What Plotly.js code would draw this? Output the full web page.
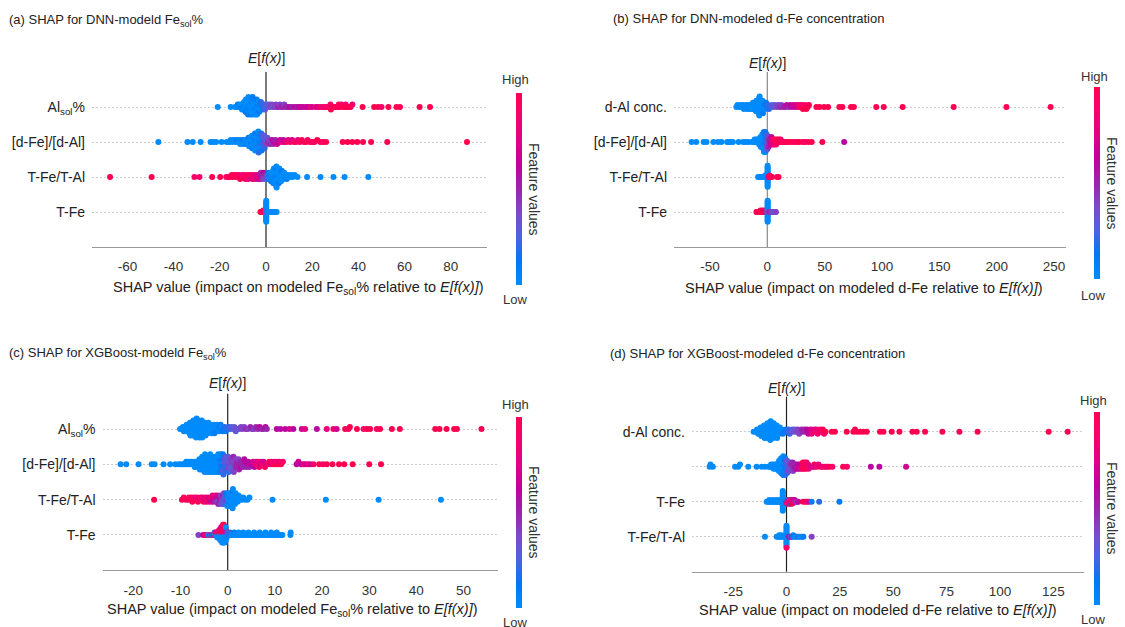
<!DOCTYPE html>
<html><head><meta charset="utf-8">
<script src="https://cdn.plot.ly/plotly-3.0.1.min.js"></script>
<style>html,body{margin:0;padding:0;background:#fff}</style>
</head><body><div id="chart" style="width:1125px;height:627px"></div>
<script>
// ---------------- DATA: [SHAP value, feature value level 0..10] ----------------
// Panel (a) DNN Fe_sol%
const A_al = [[-20.9,0],[-15.3,0],
[-13.4,0],[-12.6,0],[-12.2,1],[-11.6,0],[-11.3,0],[-11.0,1],
[-10.6,0],[-10.4,0],[-10.2,1],[-10.0,0],[-9.8,0],
[-9.5,0],[-9.4,1],[-9.2,0],[-9.1,0],[-9.0,0],[-8.8,1],[-8.7,0],
[-8.4,0],[-8.3,0],[-8.2,1],[-8.1,0],[-8.0,0],[-7.9,0],[-7.8,1],[-7.6,0],
[-7.4,0],[-7.3,0],[-7.2,1],[-7.0,0],[-6.9,0],[-6.8,0],[-6.7,1],[-6.6,0],[-6.5,0],
[-6.3,0],[-6.2,1],[-6.1,0],[-6.0,0],[-5.9,0],[-5.8,1],[-5.7,0],[-5.6,0],[-5.5,0],
[-5.3,0],[-5.2,0],[-5.0,1],[-4.9,0],[-4.8,0],[-4.7,0],[-4.5,1],[-4.4,0],
[-4.2,0],[-4.0,1],[-3.9,0],[-3.7,0],[-3.6,1],[-3.4,0],[-3.3,0],
[-3.0,1],[-2.8,0],[-2.6,1],[-2.4,0],[-2.2,2],
[-1.9,1],[-1.6,2],[-1.4,1],[-1.1,2],
[-0.8,2],[-0.4,3],[-0.1,2],
[0.3,3],[0.8,3],[1.4,3],[1.9,4],[2.5,4],[3.0,3],[3.6,4],[4.2,4],
[4.8,4],[5.3,5],[6.0,4],[6.6,5],[7.3,5],[7.9,4],[8.6,5],[9.4,5],[10.3,6],[11.2,5],
[12.5,6],[13.5,5],[14.3,6],[15.1,7],[16.0,6],[17.2,7],[18.0,6],[19.1,8],[20.0,7],[21.5,8],[22.4,7],[23.4,9],[24.5,8],
[25.3,9],[26.2,10],[26.8,8],[27.5,10],[27.9,9],[28.1,10],[28.8,9],[29.5,10],[30.3,10],[31.2,9],[31.5,10],[32.0,10],[32.6,9],[33.4,10],[34.1,10],[34.5,9],[35.0,10],[35.8,10],[36.6,10],[37.4,9],
[41.8,10],[46.8,10],[48.5,10],[50.0,9],[53.0,10],[56.5,10],[58.0,10],[66.5,10],[71.0,10]];

const A_dfe = [[-46.6,0],[-34.0,0],[-31.7,0],[-28.3,0],[-24.0,0],[-22.8,0],[-21.6,0],[-19.2,0],[-17.0,0],
[-15.9,0],[-15.3,0],[-14.6,0],[-14.0,0],[-13.2,0],[-12.6,1],[-11.9,0],[-11.6,0],[-11.2,0],[-10.5,0],[-10.2,1],[-9.9,0],
[-9.3,0],[-9.0,0],[-8.7,1],[-8.4,0],[-8.0,0],[-7.8,0],[-7.6,1],[-7.3,0],[-7.1,0],
[-6.8,0],[-6.6,1],[-6.5,0],[-6.3,0],[-6.1,0],[-6.0,1],[-5.8,0],[-5.6,0],
[-5.5,0],[-5.4,1],[-5.2,0],[-5.1,0],[-5.0,0],[-4.8,1],[-4.7,0],[-4.5,0],[-4.4,1],[-4.3,0],
[-4.1,0],[-4.0,1],[-3.8,0],[-3.7,0],[-3.6,1],[-3.4,0],[-3.3,0],[-3.2,2],[-3.0,0],[-2.9,1],
[-2.8,1],[-2.6,0],[-2.5,2],[-2.3,1],[-2.2,0],[-2.0,2],[-1.9,1],[-1.7,3],[-1.6,1],
[-1.4,2],[-1.2,3],[-1.0,2],[-0.8,3],[-0.6,2],[-0.3,4],
[0.0,3],[0.3,4],[0.6,3],[0.9,5],[1.3,4],[1.8,5],[2.3,4],[2.7,6],[3.2,5],[3.6,6],[4.1,5],[4.8,7],[5.4,6],[6.1,7],[6.8,8],[7.5,6],[8.1,7],[8.9,9],
[9.6,8],[10.5,9],[11.3,7],[12.2,9],[13.0,10],[13.8,8],[14.6,9],[15.5,10],[16.4,9],[17.3,10],[18.0,9],[19.0,10],[20.1,10],[21.0,9],[22.2,10],[23.5,10],[24.8,9],[26.0,10],
[33.2,10],[35.3,10],[37.4,10],[39.5,10],[42.0,10],[45.5,10],[52.5,10],[87.0,10]];

const A_tfetal = [[-67.5,10],[-49.5,10],[-31.0,9],[-28.8,9],[-23.3,10],[-19.8,10],[-17.2,9],[-16.3,10],
[-15.5,10],[-14.8,9],[-14.2,10],[-13.6,10],[-13.0,9],[-12.5,10],[-12.0,10],
[-11.5,9],[-11.2,10],[-10.6,10],[-10.2,9],[-9.6,10],[-9.2,8],[-8.9,10],[-8.4,9],[-8.0,10],[-7.7,8],[-7.3,9],[-6.9,10],[-6.5,8],[-6.2,9],[-5.8,7],[-5.4,10],[-5.0,8],[-4.7,9],[-4.3,7],[-3.9,8],[-3.5,6],[-3.2,9],
[-2.8,6],[-2.5,7],[-2.2,5],[-1.9,6],[-1.6,5],[-1.3,4],[-1.0,6],[-0.7,4],[-0.4,5],[-0.1,3],[0.2,4],[0.5,3],[0.8,2],
[1.1,1],[1.3,0],[1.5,2],[1.7,0],
[2.0,0],[2.2,1],[2.4,0],[2.5,0],[2.7,1],[2.8,0],
[3.0,0],[3.1,0],[3.2,1],[3.4,0],[3.5,0],[3.6,0],[3.7,1],[3.8,0],[3.9,0],
[4.1,0],[4.2,0],[4.3,1],[4.4,0],[4.5,0],[4.6,0],[4.7,0],[4.8,1],[4.9,0],[5.0,0],
[5.2,0],[5.4,0],[5.5,1],[5.7,0],[5.8,0],[6.0,0],[6.1,0],
[6.3,0],[6.5,0],[6.8,1],[7.0,0],[7.2,0],
[7.5,0],[7.9,0],[8.2,0],[8.6,0],[9.0,1],[9.4,0],[9.8,0],[10.4,0],[10.9,0],[11.5,0],[12.4,0],[13.6,0],
[17.8,0],[23.6,0],[29.2,0],[34.0,0],[44.3,0]];

const A_tfe = [[-2.4,10],[-2.0,10],[-1.7,9],[-1.5,10],[-1.3,10],[-1.2,10],[-1.2,9],[-1.0,10],[-0.9,10],[-0.8,10],[-0.7,9],[-0.7,10],[-0.6,10],[-0.5,10],[-0.4,10],[-0.4,9],[-0.3,10],[-0.2,8],[-0.1,6],
[0.1,0],[0.1,0],[0.1,0],[0.1,0],[0.1,0],[0.1,0],[0.1,0],[0.1,0],[0.1,0],[0.1,0],[0.1,0],[0.1,0],[0.1,0],[0.1,0],[0.1,0],[0.1,0],
[0.3,3],[0.5,2],[0.8,0],[1.2,0],[1.6,0],[2.0,0],[2.5,0],[3.0,0],[3.5,0],[4.0,0],[4.6,0]];

// Panel (b) DNN d-Fe
const B_dal = [[-27.0,0],[-26.0,0],[-24.5,0],[-23.2,0],[-22.0,0],[-21.2,0],[-20.4,0],[-19.3,0],[-18.4,0],[-17.5,0],
[-16.6,0],[-15.9,0],[-15.2,0],[-14.5,0],[-13.8,0],[-13.1,0],[-12.5,0],[-11.8,0],
[-11.2,0],[-10.7,0],[-10.3,0],[-9.9,0],[-9.5,0],[-9.1,0],
[-8.6,0],[-8.3,0],[-8.0,0],[-7.8,0],[-7.6,0],[-7.4,0],[-7.2,0],[-7.0,0],[-6.7,0],[-6.4,0],
[-5.9,0],[-5.5,0],[-5.0,0],[-4.6,0],[-4.2,0],[-3.8,1],
[-3.2,0],[-2.5,1],[-1.8,0],[-1.1,1],[-0.4,1],[0.6,2],[1.5,2],[2.5,2],[4.0,3],[5.3,3],[6.9,3],
[8.3,4],[9.8,4],[11.2,5],[12.5,4],[14.0,5],[15.5,5],[17.0,6],[18.6,5],[20.1,6],[21.5,6],[23.0,7],[24.4,6],[25.6,7],
[27.0,8],[28.0,9],[29.2,10],[30.1,9],[31.0,10],[32.0,10],[33.1,9],[34.0,10],[35.2,10],[36.3,10],
[42.8,10],[45.5,10],[49.5,10],[53.0,10],[62.8,10],[65.5,10],[73.0,10],[75.5,10],[95.0,10],[101.5,10],[118.0,10],[162.5,10],[208.5,10],[247.0,10]];

const B_dfe = [[-66.0,0],[-62.0,0],[-55.5,0],[-53.0,0],[-47.0,0],[-43.0,0],[-40.0,0],[-35.0,0],[-33.5,0],[-32.0,0],[-30.0,0],[-25.0,0],[-21.0,0],[-19.0,0],[-16.5,0],[-13.5,0],[-12.0,0],
[-11.0,0],[-10.4,0],[-9.7,0],[-9.1,0],[-8.4,0],[-8.0,0],[-7.6,0],
[-7.1,0],[-6.8,0],[-6.5,0],[-6.2,0],[-5.9,0],[-5.6,0],[-5.4,0],[-5.1,0],[-4.8,0],
[-4.6,0],[-4.4,0],[-4.3,0],[-4.1,0],[-3.9,0],[-3.8,0],[-3.6,0],[-3.4,0],
[-3.3,0],[-3.2,0],[-3.0,1],[-2.9,0],[-2.8,0],[-2.6,0],[-2.5,1],[-2.4,0],[-2.2,0],[-2.1,1],
[-1.9,0],[-1.8,1],[-1.6,0],[-1.4,2],[-1.2,1],[-1.0,2],[-0.9,1],[-0.7,3],
[-0.5,2],[-0.2,3],[0.0,3],[0.3,4],[0.5,3],
[0.8,4],[1.1,5],[1.5,4],[1.8,5],
[2.1,5],[2.5,6],[2.9,5],[3.2,7],
[3.6,6],[4.0,7],[4.5,8],[4.9,7],[5.4,8],[5.9,9],[6.3,8],[6.8,9],[7.2,10],
[7.7,9],[8.4,10],[9.0,10],[9.8,9],[10.3,10],[11.1,10],[11.7,9],[12.5,10],[13.3,10],[14.6,10],[16.0,9],[17.4,10],[19.0,10],
[21.5,10],[24.0,9],[25.8,10],[28.0,10],[31.0,10],[33.0,9],[35.8,10],[38.7,10],[48.0,10],[67.0,6]];

const B_tfetal = [[-8.0,0],[-7.2,0],[-6.5,0],[-5.8,0],[-5.0,0],[-4.4,0],[-3.8,0],[-3.2,0],[-2.6,0],[-2.0,0],[-2.0,0],[-1.5,0],[-1.0,0],[-1.0,0],[-0.6,0],[-0.3,0],
[0.28,0],[0.28,0],[0.28,0],[0.28,0],[0.28,0],[0.28,0],[0.28,0],[0.28,0],[0.28,0],[0.28,0],[0.28,0],[0.28,0],[0.28,0],[0.28,0],[0.28,0],[0.28,0],
[0.6,3],[1.2,8],[1.6,6],[2.0,9],[2.0,10],[2.6,10],[3.3,10],[4.1,10],[8.5,10],[9.8,10]];

const B_tfe = [[-9.5,10],[-9.0,10],[-8.4,10],[-7.8,10],[-7.2,10],[-6.6,10],[-6.0,10],[-6.0,9],[-5.4,10],[-4.8,10],[-4.2,10],[-4.2,10],[-3.6,10],[-3.0,9],[-2.4,10],[-2.4,10],[-1.8,10],[-1.2,9],[-0.6,10],
[0.3,0],[0.3,0],[0.3,0],[0.3,0],[0.3,0],[0.3,0],[0.3,0],[0.3,0],[0.3,0],[0.3,0],[0.3,0],[0.3,0],[0.3,0],[0.3,0],[0.3,0],[0.3,0],
[1.0,5],[1.6,4],[2.2,5],[2.8,4],[3.4,5],[4.0,4],[4.6,3],[5.2,4],[5.8,3],[6.4,4],[7.0,3],[7.5,4]];

// Panel (c) XGBoost Fe_sol%
const C_al = [[-10.1,0],[-9.7,0],[-9.5,0],[-9.3,0],[-9.1,0],[-9.0,0],[-8.8,0],[-8.7,0],[-8.5,0],
[-8.4,0],[-8.3,0],[-8.2,0],[-8.1,0],[-8.0,0],[-7.9,0],
[-7.8,0],[-7.8,0],[-7.7,0],[-7.6,0],[-7.6,0],[-7.5,0],[-7.4,0],[-7.3,0],[-7.2,0],
[-7.1,0],[-7.1,0],[-7.0,0],[-6.9,0],[-6.9,0],[-6.8,0],[-6.7,0],[-6.7,0],[-6.6,0],[-6.5,0],
[-6.5,0],[-6.4,0],[-6.4,0],[-6.3,0],[-6.2,0],[-6.2,0],[-6.1,0],[-6.0,0],[-5.9,0],
[-5.9,0],[-5.8,0],[-5.8,0],[-5.7,0],[-5.6,0],[-5.5,0],[-5.5,0],[-5.4,0],
[-5.3,0],[-5.2,0],[-5.1,0],[-5.0,0],[-4.9,0],[-4.8,0],[-4.7,0],
[-4.6,0],[-4.5,0],[-4.4,0],[-4.3,0],[-4.2,0],[-4.1,0],
[-4.0,0],[-3.9,0],[-3.7,0],[-3.6,0],[-3.4,0],
[-3.3,0],[-3.2,0],[-3.0,0],[-2.9,0],[-2.8,1],
[-2.7,0],[-2.5,0],[-2.3,1],[-2.2,0],
[-2.0,0],[-1.9,1],[-1.7,0],[-1.5,1],
[-1.4,1],[-1.2,0],[-1.0,1],
[-0.8,1],[-0.6,2],[-0.4,1],
[-0.1,2],[0.2,2],[0.5,2],[0.8,3],[1.1,3],[1.4,3],[1.7,3],[2.1,4],[2.4,3],[2.8,4],
[3.1,4],[3.5,4],[3.9,5],[4.3,4],[4.8,5],[5.2,5],[5.6,4],[6.0,5],[6.4,5],[6.8,6],[7.2,5],[7.6,5],[8.0,6],[8.3,5],
[10.4,6],[11.2,6],[12.2,6],[13.1,7],[13.9,6],[15.7,7],[16.4,8],[18.9,6],[21.0,8],[22.4,9],[23.1,7],[24.9,10],[25.6,9],[25.9,10],[27.4,10],[28.8,9],[29.5,10],[30.2,10],[31.6,9],[32.3,10],[34.8,10],[36.5,10],[44.0,10],[44.9,10],[46.4,10],[48.0,10],[48.6,10],[53.8,10]];

const C_dfe = [[-22.7,0],[-21.5,0],[-18.9,0],[-16.1,0],[-15.5,0],[-13.6,0],[-12.2,0],[-11.1,0],[-10.4,0],[-9.9,0],[-9.4,0],[-9.0,0],
[-8.8,0],[-8.6,0],[-8.2,0],[-8.0,0],[-7.7,0],[-7.5,0],[-7.2,0],[-7.0,0],[-6.8,0],
[-6.7,0],[-6.6,0],[-6.4,0],[-6.3,0],[-6.1,0],[-6.0,0],[-5.9,0],[-5.8,0],[-5.7,0],
[-5.6,0],[-5.5,0],[-5.5,0],[-5.4,0],[-5.3,0],[-5.2,0],[-5.2,0],
[-5.1,0],[-5.0,0],[-4.9,0],[-4.9,0],[-4.8,0],[-4.7,0],[-4.7,0],[-4.6,0],
[-4.5,0],[-4.4,0],[-4.4,0],[-4.3,0],[-4.2,0],[-4.2,0],[-4.1,0],[-4.0,0],
[-3.9,0],[-3.9,0],[-3.8,0],[-3.7,0],[-3.6,0],[-3.5,0],[-3.5,0],
[-3.4,0],[-3.3,0],[-3.3,0],[-3.2,0],[-3.1,0],[-3.0,0],[-3.0,0],
[-2.9,0],[-2.8,0],[-2.7,0],[-2.6,0],[-2.5,0],[-2.4,0],
[-2.3,0],[-2.3,0],[-2.2,0],[-2.1,0],[-2.0,0],[-2.0,0],[-1.9,0],
[-1.8,0],[-1.8,0],[-1.7,1],[-1.6,0],[-1.6,0],[-1.5,1],[-1.5,0],[-1.4,2],[-1.3,0],[-1.3,1],
[-1.2,1],[-1.2,2],[-1.1,1],[-1.0,3],[-1.0,1],[-0.9,2],[-0.8,1],[-0.8,3],
[-0.7,2],[-0.6,3],[-0.5,2],[-0.4,3],[-0.3,2],[-0.3,3],[-0.2,2],
[-0.1,3],[0.0,4],[0.1,3],[0.2,2],[0.3,4],[0.4,3],
[0.5,3],[0.6,4],[0.7,3],[0.8,4],[0.9,4],[0.9,3],
[1.0,4],[1.1,3],[1.2,5],[1.3,4],[1.4,4],
[1.5,4],[1.7,5],[1.8,4],[1.9,5],[2.0,5],
[2.1,5],[2.3,4],[2.4,5],[2.5,5],
[2.7,5],[2.8,6],[3.0,5],[3.1,5],
[3.3,5],[3.5,6],[3.6,5],
[3.8,6],[4.0,5],[4.2,6],
[4.4,6],[4.6,5],[4.9,6],[5.2,6],[5.4,7],[5.7,6],
[5.9,8],[6.1,7],[6.3,9],[6.5,8],[6.7,9],[6.9,7],
[7.1,8],[7.4,9],[7.6,7],[7.9,10],[8.2,8],[8.5,9],[8.8,10],[9.1,7],[9.3,9],[9.6,10],[9.9,8],[10.2,10],[10.4,9],[10.7,10],[10.9,8],[11.3,10],[11.7,9],
[14.6,6],[15.0,7],[15.6,6],[16.1,8],[16.5,7],[17.0,8],[17.5,7],[18.2,9],[19.4,10],[20.2,9],[21.0,10],
[22.2,10],[23.6,10],[24.7,10],[26.5,10],[30.0,10],[32.5,10]];

const C_tfetal = [[-15.6,10],[-9.7,10],[-9.3,10],[-8.9,9],
[-8.4,10],[-8.2,9],[-7.8,10],[-7.6,10],[-7.5,9],[-7.2,10],[-7.0,8],[-6.7,10],[-6.5,9],[-6.3,10],[-6.0,8],[-5.8,10],[-5.5,9],[-5.3,8],[-5.1,10],[-4.9,7],[-4.7,9],[-4.5,8],[-4.3,10],[-4.1,7],[-3.9,8],[-3.7,6],[-3.5,9],[-3.3,7],[-3.2,8],[-3.0,6],[-2.9,7],[-2.7,5],[-2.6,8],
[-2.4,5],[-2.3,6],[-2.2,4],[-2.1,7],[-2.0,5],[-1.8,4],[-1.7,6],[-1.6,5],[-1.5,4],[-1.4,3],[-1.3,5],[-1.2,4],[-1.1,3],[-1.0,5],[-0.9,3],[-0.8,4],[-0.7,2],[-0.6,3],[-0.5,4],[-0.4,2],[-0.3,3],[-0.2,1],
[-0.1,0],[0.0,1],[0.1,0],
[0.25,0],[0.3,0],[0.35,1],[0.4,0],[0.5,0],[0.55,0],[0.6,1],[0.65,0],[0.7,0],[0.75,0],
[0.85,0],[0.9,0],[1.0,1],[1.05,0],[1.1,0],[1.2,0],[1.3,0],[1.35,0],
[1.45,0],[1.55,0],[1.65,0],[1.8,0],[1.9,0],
[2.1,0],[2.3,0],[2.5,0],[2.7,0],[3.0,0],[3.3,0],[3.7,0],[4.2,0],[4.6,0],
[9.5,0],[20.8,0],[32.0,0],[45.2,0]];

const C_tfe = [[-6.2,4],[-5.2,6],[-4.8,8],[-4.4,9],[-4.1,2],[-3.9,0],[-3.7,9],[-3.5,0],[-3.3,7],[-3.1,0],[-2.9,8],[-2.8,0],
[-2.6,0],[-2.6,9],
[-2.4,0],[-2.4,8],
[-2.2,0],[-2.2,9],[-2.2,0],
[-2.0,0],[-2.0,10],[-2.0,0],
[-1.8,0],[-1.8,9],[-1.8,0],[-1.8,8],
[-1.6,0],[-1.6,10],[-1.6,0],[-1.6,9],[-1.6,0],
[-1.4,0],[-1.4,9],[-1.4,0],[-1.4,10],[-1.4,0],[-1.4,7],
[-1.2,0],[-1.2,10],[-1.2,0],[-1.2,9],[-1.2,0],[-1.2,8],[-1.2,0],
[-1.0,0],[-1.0,9],[-1.0,0],[-1.0,10],[-1.0,0],[-1.0,8],[-1.0,0],[-1.0,9],
[-0.8,0],[-0.8,10],[-0.8,0],[-0.8,9],[-0.8,0],[-0.8,7],[-0.8,0],[-0.8,10],
[-0.6,0],[-0.6,9],[-0.6,0],[-0.6,8],[-0.6,0],[-0.6,10],[-0.6,0],
[-0.4,0],[-0.4,8],[-0.4,0],[-0.4,9],[-0.4,0],[-0.4,0],
[-0.2,0],[-0.2,5],[-0.2,0],
[0.0,0],[0.0,3],
[0.2,2],[0.5,0],[0.5,2],[0.8,0],[1.1,0],[1.4,0],[1.4,1],[1.7,0],[2.0,0],[2.3,0],[2.3,0],[2.6,0],[3.0,0],[3.3,0],[3.3,0],[3.6,0],[4.0,0],[4.4,0],[4.4,0],[4.8,0],[5.2,0],[5.6,0],[5.6,0],[6.0,0],[6.4,0],[6.8,0],[6.8,0],[7.2,0],[7.6,0],[8.0,0],[8.0,0],[8.4,0],[8.8,0],[9.2,0],[9.2,0],[9.6,0],[10.0,0],[10.4,0],[10.4,0],[10.8,0],[11.2,0],[11.6,0],[13.3,0],[13.35,0]];

// Panel (d) XGBoost d-Fe
const D_dal = [[-15.4,0],[-14.3,0],[-13.8,0],[-13.3,0],[-12.9,0],[-12.6,0],[-12.4,0],[-12.1,0],[-11.8,0],
[-11.5,0],[-11.3,0],[-11.1,0],[-10.9,0],[-10.7,0],[-10.5,0],[-10.3,0],
[-10.1,0],[-9.9,0],[-9.7,0],[-9.6,0],[-9.4,0],[-9.2,0],[-9.0,0],[-8.9,0],[-8.7,0],
[-8.6,0],[-8.5,0],[-8.3,0],[-8.2,0],[-8.0,0],[-7.9,0],[-7.7,0],[-7.6,0],[-7.4,0],[-7.3,0],
[-7.1,0],[-6.9,0],[-6.8,0],[-6.6,0],[-6.4,0],[-6.2,0],[-6.0,0],[-5.8,0],
[-5.6,0],[-5.4,0],[-5.1,0],[-4.9,0],[-4.6,0],[-4.4,0],
[-4.1,0],[-3.8,0],[-3.4,0],[-3.1,0],
[-2.7,0],[-2.2,0],[-1.7,1],[-1.1,1],[-0.3,1],
[0.4,2],[0.9,2],[1.5,2],[2.1,3],[2.8,3],[3.4,3],[4.0,3],[4.6,4],[5.3,4],[5.9,4],[6.5,4],[7.1,5],[7.8,5],[8.4,5],[9.0,5],[9.6,6],[10.2,6],[10.8,6],
[11.3,7],[11.8,8],[12.4,8],[13.0,8],[13.5,9],[14.0,8],[14.6,9],[15.2,9],[15.7,9],[16.4,8],[17.0,10],[17.6,9],[18.3,10],
[21.2,10],[22.7,10],[28.2,10],[31.3,10],[32.1,10],[32.9,10],[34.5,10],[36.0,10],[37.6,10],[43.8,10],[45.4,10],[49.3,10],[52.9,10],[59.0,10],[61.0,10],[64.9,10],[73.0,10],[81.0,10],[89.5,10],[122.8,10],[131.7,10]];

const D_dfe = [[-36.0,0],[-35.6,0],[-34.5,0],[-24.1,0],[-22.6,0],[-21.8,0],[-17.9,0],[-14.0,0],[-11.6,0],[-10.1,0],[-8.5,0],[-7.7,0],
[-7.2,0],[-6.8,0],[-6.4,0],[-6.1,0],[-5.8,0],[-5.5,0],[-5.2,0],[-4.9,0],
[-4.6,0],[-4.4,0],[-4.2,0],[-4.0,0],[-3.8,0],
[-3.7,0],[-3.6,0],[-3.4,0],[-3.3,0],[-3.1,0],[-3.0,0],[-2.9,0],
[-2.8,0],[-2.7,0],[-2.6,0],[-2.5,0],[-2.4,0],[-2.3,0],[-2.2,0],[-2.1,0],[-2.0,0],
[-1.9,0],[-1.8,0],[-1.7,0],[-1.6,1],[-1.5,0],[-1.4,0],[-1.3,1],[-1.2,0],[-1.1,0],[-1.0,1],
[-0.9,1],[-0.8,0],[-0.7,1],[-0.6,2],[-0.5,1],[-0.4,2],[-0.2,1],[-0.1,2],
[0.0,2],[0.2,3],[0.3,2],[0.5,3],[0.6,3],[0.8,2],
[0.9,3],[1.1,4],[1.3,3],[1.5,4],[1.7,3],
[1.9,4],[2.2,4],[2.4,5],[2.7,4],
[2.9,5],[3.1,4],[3.4,5],[3.6,5],
[3.8,5],[4.2,6],[4.5,5],
[4.8,6],[5.1,5],[5.4,6],
[5.7,6],[6.0,7],[6.3,6],
[6.6,7],[7.0,8],[7.3,7],
[7.5,9],[7.7,10],[7.9,10],[8.1,9],[8.3,10],
[8.5,10],[8.7,9],[8.9,10],[9.1,10],
[9.4,9],[9.8,10],[10.1,8],
[10.4,8],[10.9,9],
[11.6,7],[12.5,8],[13.0,10],[13.3,7],[14.2,9],[15.0,8],[15.9,10],[16.8,7],[17.6,9],[18.5,10],[19.3,8],[20.2,10],[21.5,9],
[26.5,10],[28.3,9],[39.5,6],[43.5,6],[56.0,7]];

const D_tfe = [[-9.3,0],[-8.7,0],[-8.1,0],[-8.1,0],[-7.5,0],[-7.0,0],[-6.4,0],[-6.4,0],[-5.9,0],[-5.3,0],[-4.8,0],[-4.8,0],[-4.3,0],[-3.8,0],[-3.3,0],[-3.3,0],[-2.9,0],[-2.5,0],[-2.2,0],
[-1.75,0],[-1.75,0],[-1.75,0],[-1.75,0],[-1.75,0],[-1.75,0],[-1.75,0],[-1.75,0],[-1.75,0],[-1.75,0],[-1.75,0],[-1.75,0],
[-1.4,0],[-1.1,0],[-0.8,1],[-0.5,0],[-0.2,2],
[0.1,6],[0.2,0],[0.3,9],[0.5,7],[0.6,10],[0.7,3],[0.8,8],[0.9,0],[1.0,9],[1.2,10],[1.3,6],[1.4,8],[1.5,9],[1.6,4],[1.7,10],[1.9,7],[2.0,9],[2.1,2],[2.2,10],[2.3,8],[2.4,6],[2.6,9],[2.7,4],[2.8,10],[2.9,7],[3.0,9],[3.3,8],[3.4,5],[3.6,10],[3.8,6],[4.0,9],[4.3,4],[4.6,8],[5.0,3],[5.5,6],
[7.8,10],[8.8,10],[9.6,9],[10.5,7],[11.8,1],[15.3,2],[24.8,1]];

const D_tfetal = [[-10.1,0],[-4.6,0],[-4.0,0],[-3.4,0],[-3.4,0],[-2.8,0],[-2.3,0],[-2.3,0],[-1.7,0],[-1.2,0],[-0.8,0],[-0.5,0],
[0.0,0],[0.0,0],[0.0,0],[0.0,0],[0.0,0],[0.0,0],[0.0,0],[0.0,0],[0.0,0],[0.0,0],[0.0,0],[0.0,0],[0.0,0],[0.0,0],[0.0,9],
[0.5,0],[0.9,2],[1.3,6],[1.6,8],[2.0,3],[2.5,5],[3.2,0],[3.2,1],[4.0,0],[4.8,0],[5.5,2],[6.3,0],[7.1,0],[7.9,1],[11.8,4]];

// Row labels (top to bottom) and tick values
const A_labels = ['Al<sub>sol</sub>%','[d-Fe]/[d-Al]','T-Fe/T-Al','T-Fe'];
const B_labels = ['d-Al conc.','[d-Fe]/[d-Al]','T-Fe/T-Al','T-Fe'];
const C_labels = ['Al<sub>sol</sub>%','[d-Fe]/[d-Al]','T-Fe/T-Al','T-Fe'];
const D_labels = ['d-Al conc.','','T-Fe','T-Fe/T-Al'];
const A_ticks = [-60,-40,-20,0,20,40,60,80];
const B_ticks = [-50,0,50,100,150,200,250];
const C_ticks = [-20,-10,0,10,20,30,40,50];
const D_ticks = [-25,0,25,50,75,100,125];
const titles = ['(a) SHAP for DNN-modeld Fe<sub>sol</sub>%','(b) SHAP for DNN-modeled d-Fe concentration','(c) SHAP for XGBoost-modeld Fe<sub>sol</sub>%','(d) SHAP for XGBoost-modeled d-Fe concentration'];
const xTitles = ['SHAP value (impact on modeled Fe<sub>sol</sub>% relative to <i>E[f(x)]</i>)','SHAP value (impact on modeled d-Fe relative to <i>E[f(x)]</i>)','SHAP value (impact on modeled Fe<sub>sol</sub>% relative to <i>E[f(x)]</i>)','SHAP value (impact on modeled d-Fe relative to <i>E[f(x)]</i>)'];

// ---------------- LAYOUT / STYLE ----------------
const W = 1125, H = 627;
const px = x => x / W, py = y => 1 - y / H;
const FONT = 'Liberation Sans, Arial, sans-serif';
const SHAP_SCALE = [[0,'#008bfb'],[0.125,'rgb(0,120,243)'],[0.25,'rgb(75,99,227)'],[0.375,'rgb(125,73,204)'],[0.5,'rgb(155,36,173)'],[0.625,'rgb(194,0,156)'],[0.75,'rgb(224,0,134)'],[0.875,'rgb(245,0,109)'],[1,'#ff0051']];

const panels = [
 {rows:[A_al,A_dfe,A_tfetal,A_tfe], labels:A_labels, ticks:A_ticks, x0:92, x1:487, zero:266, scale:2.31, top:72, bot:247, zc:'#222',
  title:[7,20], eLab:58, xt:[298.6,288], cb:[516,93,192], hi:[515,80], lo:[515,299], fv:[534,189]},
 {rows:[B_dal,B_dfe,B_tfetal,B_tfe], labels:B_labels, ticks:B_ticks, x0:674, x1:1066, zero:767.3, scale:1.147, top:72, bot:247, zc:'#888',
  title:[611,19], eLab:63, xt:[864,288], cb:[1093.5,87,192], hi:[1094,76], lo:[1093,295], fv:[1112,183]},
 {rows:[C_al,C_dfe,C_tfetal,C_tfe], labels:C_labels, ticks:C_ticks, x0:102.5, x1:498, zero:227.7, scale:4.717, top:393.7, bot:570.3, zc:'#222',
  title:[7,353], eLab:383, xt:[292,610], cb:[516,417,191], hi:[515,404], lo:[515,622], fv:[534,512]},
 {rows:[D_dal,D_dfe,D_tfe,D_tfetal], labels:D_labels, ticks:D_ticks, x0:692, x1:1084, zero:786.5, scale:2.135, top:396.7, bot:571.7, zc:'#222',
  title:[608,353], eLab:388, xt:[877.6,610], cb:[1093.5,412,193], hi:[1093,400], lo:[1093,619], fv:[1112,508]}
];

// SHAP beeswarm layout (same algorithm as shap.summary_plot)
function swarm(vals) {
  const N = vals.length, nbins = 100, rowH = 0.4;
  const mn = Math.min(...vals), mx = Math.max(...vals);
  const quant = vals.map(v => Math.round(nbins * (v - mn) / (mx - mn + 1e-8)));
  const inds = vals.map((_, i) => i).sort((a, b) => quant[a] - quant[b] || a - b);
  const ys = new Array(N).fill(0);
  let layer = 0, last = -1;
  for (const ind of inds) {
    if (quant[ind] !== last) layer = 0;
    ys[ind] = Math.ceil(layer / 2) * ((layer % 2) * 2 - 1);
    layer++; last = quant[ind];
  }
  const m = Math.max(...ys) + 1;
  return ys.map(y => y * 0.9 * (rowH / m));
}

const traces = [], layout = {
  width: W, height: H, margin: {l:0, r:0, t:0, b:0}, showlegend: false,
  paper_bgcolor: '#fff', plot_bgcolor: '#fff',
  font: {family: FONT, color: '#333', size: 13},
  annotations: [], shapes: []
};

panels.forEach((p, k) => {
  const sfx = k === 0 ? '' : String(k + 1);
  const xa = 'x' + sfx, ya = 'y' + sfx, ca = 'coloraxis' + sfx;
  const n = p.rows.length;
  p.rows.forEach((row, i) => {
    const xs = row.map(d => d[0]);
    const cs = row.map(d => d[1] / 10);
    const off = swarm(xs);
    const yi = n - 1 - i;
    traces.push({type:'scatter', mode:'markers', x: xs, y: off.map(o => yi + o),
      xaxis: xa, yaxis: ya, hoverinfo: 'skip', cliponaxis: false,
      marker: {size: 6, color: cs, coloraxis: ca, line: {width: 0}, opacity: 1}});
  });
  const rng = [(p.x0 - p.zero) / p.scale, (p.x1 - p.zero) / p.scale];
  layout['xaxis' + sfx] = {domain: [px(p.x0), px(p.x1)], range: rng, anchor: ya,
    tickvals: p.ticks, ticktext: p.ticks.map(v => String(v)), ticks: '', showgrid: false, zeroline: false, showline: true,
    linecolor: '#999', linewidth: 1, tickfont: {size: 13.5, color: '#333'}, fixedrange: true,
    ticklabelstandoff: 7};
  layout['yaxis' + sfx] = {domain: [py(p.bot), py(p.top)], range: [-1, n], anchor: xa,
    tickvals: p.labels.map((_, i) => n - 1 - i), ticktext: p.labels, ticks: '',
    showgrid: true, gridcolor: '#cccccc', gridwidth: 1, griddash: '2px,2px',
    zeroline: false, showline: false, tickfont: {size: 14, color: '#222'}, fixedrange: true,
    ticklabelstandoff: 6};
  layout[ca] = {cmin: 0, cmax: 1, colorscale: SHAP_SCALE,
    colorbar: {x: px(p.cb[0]), xanchor: 'left', y: py(p.cb[1]), yanchor: 'top',
      len: p.cb[2], lenmode: 'pixels', thickness: 6, thicknessmode: 'pixels',
      outlinewidth: 0, showticklabels: false, ticks: '', xpad: 0, ypad: 0}};
  layout.shapes.push({type:'line', xref: xa, yref: ya + ' domain', x0: 0, x1: 0, y0: 0, y1: 1,
    line: {color: p.zc, width: 1.2}, layer: 'below'});
  const A = layout.annotations;
  A.push({text: titles[k], xref:'paper', yref:'paper', x: px(p.title[0]), y: py(p.title[1]),
    xanchor:'left', yanchor:'middle', showarrow:false, font:{size:13, color:'#222'}});
  A.push({text: '<i>E</i>[<i>f(x)</i>]', xref: xa, yref:'paper', x: 0, y: py(p.eLab),
    xanchor:'center', yanchor:'middle', showarrow:false, font:{size:14, color:'#222'}});
  A.push({text: xTitles[k], xref:'paper', yref:'paper', x: px(p.xt[0]), y: py(p.xt[1]),
    xanchor:'center', yanchor:'middle', showarrow:false, font:{size:14.5, color:'#222'}});
  A.push({text: 'High', xref:'paper', yref:'paper', x: px(p.hi[0]), y: py(p.hi[1]),
    xanchor:'center', yanchor:'middle', showarrow:false, font:{size:13, color:'#333'}});
  A.push({text: 'Low', xref:'paper', yref:'paper', x: px(p.lo[0]), y: py(p.lo[1]),
    xanchor:'center', yanchor:'middle', showarrow:false, font:{size:13, color:'#333'}});
  A.push({text: 'Feature values', xref:'paper', yref:'paper', x: px(p.fv[0]), y: py(p.fv[1]),
    xanchor:'center', yanchor:'middle', textangle: 90, showarrow:false, font:{size:14, color:'#333'}});
});

Plotly.newPlot('chart', traces, layout, {staticPlot: true, displayModeBar: false});
</script>
</body></html>
